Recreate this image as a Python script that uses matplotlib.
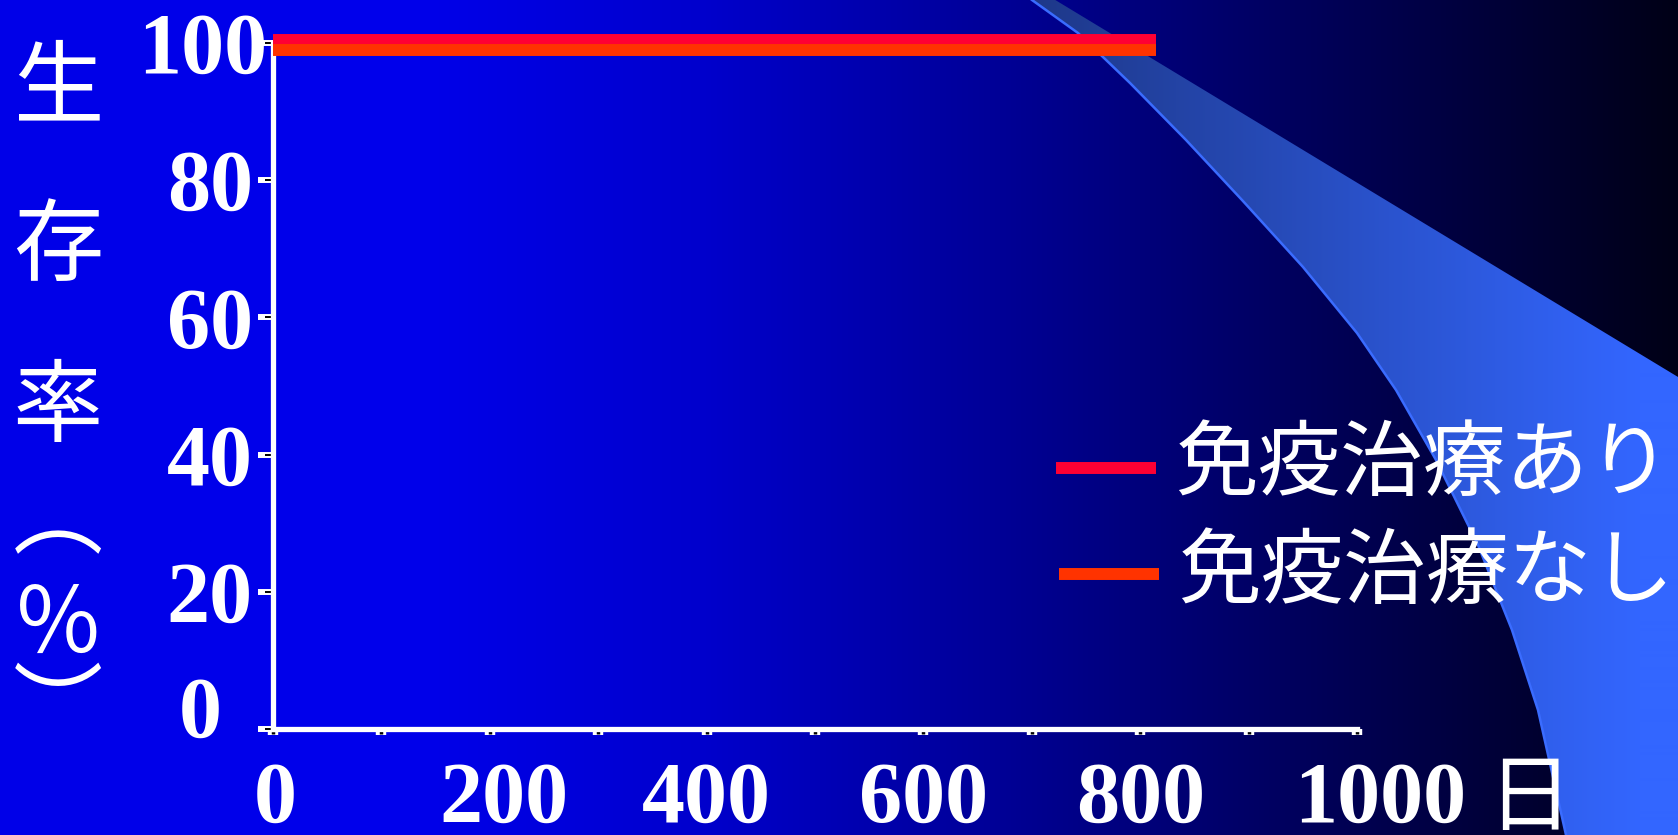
import numpy as np
import matplotlib
matplotlib.use("Agg")
import matplotlib.pyplot as plt
from matplotlib.patches import Polygon
from matplotlib.ticker import FixedLocator
from matplotlib.transforms import ScaledTranslation

# ---- data -------------------------------------------------------------
days = [0, 815]
survival_with_immuno = [100, 100]
survival_without_immuno = [100, 100]
series_labels = ["免疫治療あり", "免疫治療なし"]
series_colors = ["#ff0033", "#ff3300"]

y_ticks = [0, 20, 40, 60, 80, 100]
y_tick_labels = ["0", "20", "40", "60", "80", "100"]
x_ticks = [0, 100, 200, 300, 400, 500, 600, 700, 800, 900, 1000]
x_label_days = [0, 200, 400, 600, 800, 1000]
x_label_texts = ["0", "200", "400", "600", "800", "1000"]
x_unit = "日"
y_title_chars = ["生", "存", "率", "︵", "％", "︶"]

# ---- figure geometry (pixels) -----------------------------------------
W, H, DPI = 1678, 835, 100
fig = plt.figure(figsize=(W / DPI, H / DPI), dpi=DPI)

SERIF = "Liberation Serif"
CJK = ["Noto Sans CJK JP", "DejaVu Sans"]

# background layer in pixel coordinates (origin top-left)
bg = fig.add_axes([0, 0, 1, 1])
bg.set_xlim(0, W)
bg.set_ylim(H, 0)
bg.axis("off")

# horizontal blue-to-black gradient
gx = [0, 400, 700, 1000, 1300, 1678]
gb = [232, 236, 205, 150, 92, 22]
blue = np.interp(np.arange(W), gx, gb) / 255.0
img = np.zeros((1, W, 3))
img[0, :, 2] = blue
bg.imshow(img, extent=[0, W, H, 0], aspect="auto", interpolation="bilinear", zorder=0)

# light-blue swoosh on the right
left_edge = [(1032, 0), (1078, 33), (1130, 83), (1186, 140), (1242, 200),
             (1303, 267), (1357, 333), (1396, 390), (1436, 460), (1478, 545),
             (1512, 630), (1538, 710), (1566, 835)]
swoosh_pts = left_edge + [(W + 5, H + 5), (W + 5, 380), (1052, -2)]
swoosh = Polygon(swoosh_pts, closed=True, facecolor="none", edgecolor="none")
bg.add_patch(swoosh)
sx = np.arange(W)
sw = np.zeros((1, W, 3))
sw[0, :, 0] = np.interp(sx, [1030, 1640], [0x1e, 0x33]) / 255.0
sw[0, :, 1] = np.interp(sx, [1030, 1640], [0x38, 0x66]) / 255.0
sw[0, :, 2] = np.interp(sx, [1030, 1640], [0x88, 0xff]) / 255.0
swim = bg.imshow(sw, extent=[0, W, H, 0], aspect="auto", interpolation="bilinear", zorder=1)
swim.set_clip_path(swoosh)
ex, ey = zip(*left_edge)
bg.plot(ex, ey, color="#3a6cff", lw=1.8, zorder=2)

# ---- main plot ----------------------------------------------------------
ax_l, ax_r, ax_top, ax_bot = 273, 1357, 43, 729
ax = fig.add_axes([ax_l / W, 1 - ax_bot / H, (ax_r - ax_l) / W, (ax_bot - ax_top) / H])
ax.patch.set_alpha(0)
ax.set_xlim(0, 1000)
ax.set_ylim(0, 100)
for s in ("top", "right"):
    ax.spines[s].set_visible(False)
for s in ("left", "bottom"):
    ax.spines[s].set_color("white")
    ax.spines[s].set_linewidth(3.8)

px = lambda p: p / DPI  # pixels -> inches
shift_a = ScaledTranslation(0, px(3), fig.dpi_scale_trans)
shift_b = ScaledTranslation(0, px(-7), fig.dpi_scale_trans)
ax.plot(days, survival_with_immuno, color=series_colors[0], lw=8.6,
        solid_capstyle="butt", clip_on=False, transform=ax.transData + shift_a, zorder=5)
ax.plot(days, survival_without_immuno, color=series_colors[1], lw=8.6,
        solid_capstyle="butt", clip_on=False, transform=ax.transData + shift_b, zorder=6)

# y ticks
ax.yaxis.set_major_locator(FixedLocator(y_ticks))
ax.set_yticklabels(y_tick_labels)
ax.yaxis.set_minor_locator(FixedLocator(y_ticks))
ax.yaxis.remove_overlapping_locs = False
ax.tick_params(axis="y", which="major", direction="out", length=10.8, width=4.3,
               color="white", pad=3.6, labelsize=62, labelcolor="white")
ax.tick_params(axis="y", which="minor", direction="out", length=6, width=1.4, color="black")

# x ticks
ax.xaxis.set_major_locator(FixedLocator(x_ticks))
xlab = [x_label_texts[x_label_days.index(t)] if t in x_label_days else "" for t in x_ticks]
ax.set_xticklabels(xlab)
ax.xaxis.set_minor_locator(FixedLocator(x_ticks))
ax.xaxis.remove_overlapping_locs = False
ax.tick_params(axis="x", which="major", direction="out", length=4.5, width=7.5,
               color="white", pad=19, labelsize=62, labelcolor="white")
ax.tick_params(axis="x", which="minor", direction="out", length=3.5, width=2.5, color="black")

for lab in ax.get_yticklabels() + ax.get_xticklabels():
    lab.set_fontfamily(SERIF)
    lab.set_fontweight("bold")

# hand-placed nudges of a few labels (pixels, +y is up)
y_nudge = {"0": (-31, 22), "100": (14, 0)}
for t in ax.yaxis.get_major_ticks():
    d = y_nudge.get(t.label1.get_text())
    if d:
        t.label1.set_transform(t.label1.get_transform() +
                               ScaledTranslation(px(d[0]), px(d[1]), fig.dpi_scale_trans))
x_nudge = {"0": (2, 0), "200": (14, 0), "1000": (23, 0)}
for t in ax.xaxis.get_major_ticks():
    d = x_nudge.get(t.label1.get_text())
    if d:
        t.label1.set_transform(t.label1.get_transform() +
                               ScaledTranslation(px(d[0]), px(d[1]), fig.dpi_scale_trans))

# unit after the x labels
bg.text(1529, 800, x_unit, ha="center", va="center", fontsize=61,
        color="white", family=CJK, zorder=10)

# vertical y-axis title
y_title_pos = [90, 249, 410, 522, 628, 713]
for ch, yy in zip(y_title_chars, y_title_pos):
    bg.text(58, yy, ch, ha="center", va="center", fontsize=65,
            color="white", family=CJK, zorder=10)

# legend
legend_rows = [(1056, 468, 1175, 465), (1059, 574, 1178, 574)]
for (lx, ly, tx, ty), lbl, col in zip(legend_rows, series_labels, series_colors):
    bg.plot([lx, lx + 100], [ly, ly], color=col, lw=8.6, solid_capstyle="butt", zorder=10)
    bg.text(tx, ty, lbl, ha="left", va="center", fontsize=59.5,
            color="white", family=CJK, zorder=10)

fig.savefig("out.png", dpi=DPI)
